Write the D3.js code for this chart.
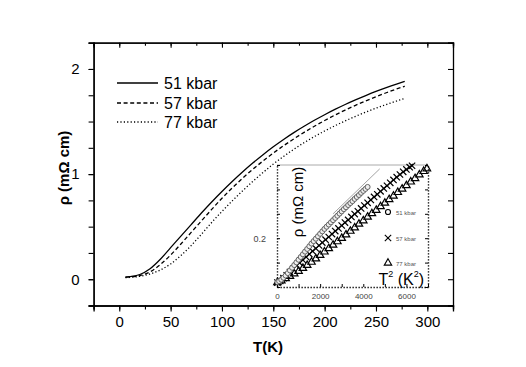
<!DOCTYPE html>
<html>
<head>
<meta charset="utf-8">
<script src="https://d3js.org/d3.v7.min.js"></script>
<style>
	body { margin: 0; background: #fff; }
	text { font-family: "Liberation Sans", Arial, sans-serif; }
</style>
</head>
<body>
<script>

// ---- main panel data : rho (mOhm cm) vs T (K)
var temps     = [6, 10, 20, 30, 40, 50, 60, 70, 80, 90, 100, 110, 120, 130, 140, 150, 160, 170, 180, 190, 200, 210, 220, 230, 240, 250, 260, 270, 278];
var rho51     = [0.02, 0.025, 0.045, 0.10, 0.19, 0.30, 0.41, 0.52, 0.63, 0.735, 0.835, 0.93, 1.02, 1.105, 1.185, 1.26, 1.33, 1.395, 1.455, 1.512, 1.565, 1.615, 1.662, 1.706, 1.747, 1.786, 1.822, 1.856, 1.882];
var rho57     = [0.02, 0.022, 0.035, 0.07, 0.14, 0.23, 0.335, 0.445, 0.555, 0.664, 0.77, 0.868, 0.96, 1.045, 1.125, 1.20, 1.27, 1.335, 1.397, 1.455, 1.51, 1.561, 1.609, 1.654, 1.696, 1.736, 1.774, 1.81, 1.836];
var rho77     = [0.015, 0.017, 0.028, 0.05, 0.088, 0.145, 0.225, 0.32, 0.428, 0.54, 0.645, 0.745, 0.84, 0.93, 1.015, 1.095, 1.168, 1.236, 1.299, 1.357, 1.41, 1.46, 1.506, 1.549, 1.589, 1.627, 1.662, 1.695, 1.72];

var seriesNames = ["51 kbar", "57 kbar", "77 kbar"];
var xTickLabels = [0, 50, 100, 150, 200, 250, 300];
var yTickLabels = [0, 1, 2];

// ---- inset data : rho vs T^2
var t2Circle  = [20, 100, 200, 300, 400, 500, 600, 700, 800, 900, 1000, 1100, 1200, 1300, 1400, 1500, 1600, 1700, 1800, 1900, 2000, 2100, 2200, 2300, 2400, 2500, 2600, 2700, 2800, 2900, 3000, 3100, 3200, 3300, 3400, 3500, 3600, 3700, 3800, 3900, 4000, 4100, 4200];
var rhoCircle = [0.020, 0.024, 0.030, 0.038, 0.047, 0.057, 0.068, 0.079, 0.090, 0.101, 0.112, 0.123, 0.134, 0.145, 0.156, 0.167, 0.178, 0.188, 0.198, 0.208, 0.218, 0.228, 0.238, 0.247, 0.256, 0.265, 0.274, 0.283, 0.292, 0.301, 0.310, 0.319, 0.327, 0.336, 0.344, 0.352, 0.361, 0.369, 0.377, 0.386, 0.394, 0.402, 0.410];

var t2Cross   = [20, 150, 300, 450, 600, 750, 900, 1050, 1200, 1350, 1500, 1650, 1800, 1950, 2100, 2250, 2400, 2550, 2700, 2850, 3000, 3150, 3300, 3450, 3600, 3750, 3900, 4050, 4200, 4350, 4500, 4650, 4800, 4950, 5100, 5250, 5400, 5550, 5700, 5850, 6000, 6150, 6260];
var rhoCross  = [0.018, 0.025, 0.036, 0.048, 0.061, 0.074, 0.087, 0.099, 0.111, 0.123, 0.135, 0.147, 0.158, 0.170, 0.182, 0.194, 0.205, 0.217, 0.229, 0.240, 0.252, 0.264, 0.275, 0.287, 0.299, 0.310, 0.322, 0.334, 0.345, 0.357, 0.369, 0.380, 0.392, 0.404, 0.415, 0.427, 0.439, 0.450, 0.461, 0.472, 0.482, 0.491, 0.497];

var t2Tri     = [20, 200, 400, 600, 800, 1000, 1200, 1400, 1600, 1800, 2000, 2200, 2400, 2600, 2800, 3000, 3200, 3400, 3600, 3800, 4000, 4200, 4400, 4600, 4800, 5000, 5200, 5400, 5600, 5800, 6000, 6200, 6400, 6600, 6800, 6950];
var rhoTri    = [0.018, 0.026, 0.035, 0.044, 0.054, 0.065, 0.077, 0.089, 0.102, 0.116, 0.130, 0.144, 0.158, 0.172, 0.186, 0.200, 0.214, 0.229, 0.243, 0.258, 0.272, 0.287, 0.301, 0.315, 0.330, 0.344, 0.359, 0.373, 0.388, 0.402, 0.416, 0.431, 0.445, 0.460, 0.474, 0.485];

// thin grey guide line over the 51 kbar points
var fitT2     = [2600, 4760];
var fitRho    = [0.30, 0.484];

var insetXTicks = [0, 2000, 4000, 6000];

/***************************************************************************
 *
 * MAIN PANEL
 *
 **************************************************************************/

var svg = d3.select("body").append("svg")
	.attr("width", 526)
	.attr("height", 367);

var xScale = d3.scaleLinear().domain([-25, 325]).range([93.6, 453]);
var yScale = d3.scaleLinear().domain([-0.25, 2.25]).range([305.5, 42.7]);

/**
 * black frame lines and ticks, same look on every side.
 */
function styleAxis(g)
{
	g.select(".domain").attr("stroke", "#000").attr("stroke-width", 1.3);
	g.selectAll(".tick line").attr("stroke", "#000").attr("stroke-width", 1.1);
	g.selectAll("text").attr("fill", "#000").attr("font-family", "Liberation Sans, Arial, sans-serif");
}

// bottom axis, ticks outward
svg.append("g")
	.attr("transform", "translate(0," + yScale.range()[0] + ")")
	.call(d3.axisBottom(xScale).tickValues(d3.range(-25, 326, 25)).tickSize(4).tickFormat(""))
	.call(styleAxis);
svg.append("g")
	.attr("transform", "translate(0," + yScale.range()[0] + ")")
	.call(d3.axisBottom(xScale).tickValues(xTickLabels).tickSize(6).tickPadding(5).tickFormat(d3.format("d")))
	.call(styleAxis)
	.call(function(g) { g.selectAll("text").attr("font-size", 15); });

// top axis, ticks inward
svg.append("g")
	.attr("transform", "translate(0," + yScale.range()[1] + ")")
	.call(d3.axisBottom(xScale).tickValues(d3.range(-25, 326, 25)).tickSize(3).tickFormat(""))
	.call(styleAxis);
svg.append("g")
	.attr("transform", "translate(0," + yScale.range()[1] + ")")
	.call(d3.axisBottom(xScale).tickValues(xTickLabels).tickSize(5).tickFormat(""))
	.call(styleAxis);

// left axis, ticks outward
svg.append("g")
	.attr("transform", "translate(" + xScale.range()[0] + ",0)")
	.call(d3.axisLeft(yScale).tickValues(d3.range(-0.25, 2.26, 0.25)).tickSize(5).tickFormat(""))
	.call(styleAxis);
svg.append("g")
	.attr("transform", "translate(" + xScale.range()[0] + ",0)")
	.call(d3.axisLeft(yScale).tickValues(yTickLabels).tickSize(5).tickPadding(9).tickFormat(d3.format("d")))
	.call(styleAxis)
	.call(function(g) { g.selectAll("text").attr("font-size", 15); });

// right axis, ticks inward
svg.append("g")
	.attr("transform", "translate(" + xScale.range()[1] + ",0)")
	.call(d3.axisLeft(yScale).tickValues(d3.range(-0.25, 2.26, 0.25)).tickSize(5).tickFormat(""))
	.call(styleAxis);

// axis titles
svg.append("text")
	.attr("x", 268).attr("y", 352)
	.attr("text-anchor", "middle")
	.attr("font-size", 15).attr("font-weight", "bold")
	.text("T(K)");

svg.append("text")
	.attr("transform", "translate(69,168) rotate(-90)")
	.attr("text-anchor", "middle")
	.attr("font-size", 15).attr("font-weight", "bold")
	.text("ρ (mΩ cm)");

var dashes = [null, "4,2.6", "1.2,2.2"];
var rhoSets = [rho51, rho57, rho77];

var line = d3.line()
	.x(function(d) { return xScale(d[0]); })
	.y(function(d) { return yScale(d[1]); })
	.curve(d3.curveMonotoneX);

rhoSets.forEach(function(rho, i)
{
	svg.append("path")
		.datum(d3.zip(temps, rho))
		.attr("fill", "none")
		.attr("stroke", "#000")
		.attr("stroke-width", 1.3)
		.attr("stroke-dasharray", dashes[i])
		.attr("d", line);
});

// legend
var legendRows = [83, 103, 122];
seriesNames.forEach(function(name, i)
{
	svg.append("line")
		.attr("x1", 117).attr("x2", 158)
		.attr("y1", legendRows[i]).attr("y2", legendRows[i])
		.attr("stroke", "#000").attr("stroke-width", 1.3)
		.attr("stroke-dasharray", dashes[i]);
	svg.append("text")
		.attr("x", 164).attr("y", legendRows[i] + 5.5)
		.attr("font-size", 16)
		.text(name);
});

/***************************************************************************
 *
 * INSET
 *
 **************************************************************************/

var xInset = d3.scaleLinear().domain([0, 7000]).range([277, 428]);
var yInset = d3.scaleLinear().domain([0, 0.5]).range([287, 165]);

var inset = svg.append("g").attr("class", "inset");

inset.append("rect")
	.attr("x", xInset.range()[0]).attr("y", yInset.range()[1])
	.attr("width", xInset.range()[1] - xInset.range()[0])
	.attr("height", yInset.range()[0] - yInset.range()[1])
	.attr("fill", "#fff");

// top edge: thin grey line
inset.append("line")
	.attr("x1", xInset.range()[0]).attr("x2", xInset.range()[1])
	.attr("y1", yInset.range()[1]).attr("y2", yInset.range()[1])
	.attr("stroke", "#aaa").attr("stroke-width", 1);

function styleInsetAxis(g)
{
	g.select(".domain").attr("stroke", "#000").attr("stroke-width", 1.4).attr("stroke-dasharray", "1.3,1.7");
	g.selectAll(".tick line").attr("stroke", "#000").attr("stroke-width", 1);
	g.selectAll("text").attr("fill", "#444").attr("font-size", 8).attr("font-family", "DejaVu Sans Condensed, DejaVu Sans, sans-serif");
}

inset.append("g")
	.attr("transform", "translate(0," + yInset.range()[0] + ")")
	.call(d3.axisBottom(xInset).tickValues(d3.range(0, 7001, 1000)).tickSizeInner(-3).tickSizeOuter(0).tickFormat(""))
	.call(styleInsetAxis);
inset.append("g")
	.attr("transform", "translate(0," + yInset.range()[0] + ")")
	.call(d3.axisBottom(xInset).tickValues(insetXTicks).tickSize(0).tickPadding(6).tickFormat(d3.format("d")))
	.call(styleInsetAxis)
	.call(function(g) { g.select(".domain").remove(); });

inset.append("g")
	.attr("transform", "translate(" + xInset.range()[0] + ",0)")
	.call(d3.axisLeft(yInset).tickValues(d3.range(0, 0.51, 0.1)).tickSizeInner(-3).tickSizeOuter(0).tickFormat(""))
	.call(styleInsetAxis);
inset.append("g")
	.attr("transform", "translate(" + xInset.range()[0] + ",0)")
	.call(d3.axisLeft(yInset).tickValues([0.2]).tickSize(0).tickPadding(11).tickFormat(d3.format(".1f")))
	.call(styleInsetAxis)
	.call(function(g) { g.select(".domain").remove(); g.selectAll("text").attr("font-size", 9); });

inset.append("g")
	.attr("transform", "translate(" + xInset.range()[1] + ",0)")
	.call(d3.axisRight(yInset).tickValues(d3.range(0, 0.51, 0.1)).tickSizeInner(-3).tickSizeOuter(0).tickFormat(""))
	.call(styleInsetAxis);

// points
var triangle = d3.symbol().type(d3.symbolTriangle).size(24);
var cross = d3.symbol().type(d3.symbolX).size(28);
var circle = d3.symbol().type(d3.symbolCircle).size(20);

inset.append("g").selectAll("path")
	.data(d3.zip(t2Tri, rhoTri))
	.enter().append("path")
		.attr("transform", function(d) { return "translate(" + xInset(d[0]) + "," + yInset(d[1]) + ")"; })
		.attr("d", triangle)
		.attr("fill", "none").attr("stroke", "#000").attr("stroke-width", 1.2);

inset.append("g").selectAll("path")
	.data(d3.zip(t2Cross, rhoCross))
	.enter().append("path")
		.attr("transform", function(d) { return "translate(" + xInset(d[0]) + "," + yInset(d[1]) + ")"; })
		.attr("d", cross)
		.attr("fill", "none").attr("stroke", "#000").attr("stroke-width", 1.2);

inset.append("g").selectAll("path")
	.data(d3.zip(t2Circle, rhoCircle))
	.enter().append("path")
		.attr("transform", function(d) { return "translate(" + xInset(d[0]) + "," + yInset(d[1]) + ")"; })
		.attr("d", circle)
		.attr("fill", "#eee").attr("stroke", "#555").attr("stroke-width", 0.9);

inset.append("line")
	.attr("x1", xInset(fitT2[0])).attr("y1", yInset(fitRho[0]))
	.attr("x2", xInset(fitT2[1])).attr("y2", yInset(fitRho[1]))
	.attr("stroke", "#999").attr("stroke-width", 0.9);

// inset legend
var insetLegendY = [212, 238, 263];
var insetSymbols = [circle, cross, triangle];
seriesNames.forEach(function(name, i)
{
	inset.append("path")
		.attr("transform", "translate(388," + insetLegendY[i] + ")")
		.attr("d", insetSymbols[i])
		.attr("fill", "none").attr("stroke", "#000").attr("stroke-width", 1.1);
	inset.append("text")
		.attr("x", 396).attr("y", insetLegendY[i] + 2.5)
		.attr("font-size", 6).attr("fill", "#555")
		.text(name);
});

// inset titles
inset.append("text")
	.attr("transform", "translate(303,202) rotate(-90)")
	.attr("text-anchor", "middle")
	.attr("font-size", 15)
	.text("ρ (mΩ cm)");

var t2Label = inset.append("text")
	.attr("x", 424).attr("y", 285)
	.attr("text-anchor", "end")
	.attr("font-size", 16);
t2Label.append("tspan").text("T");
t2Label.append("tspan").attr("font-size", 9).attr("dy", -8).text("2");
t2Label.append("tspan").attr("dy", 8).text(" (K");
t2Label.append("tspan").attr("font-size", 9).attr("dy", -8).text("2");
t2Label.append("tspan").attr("dy", 8).text(")");

</script>
</body>
</html>
